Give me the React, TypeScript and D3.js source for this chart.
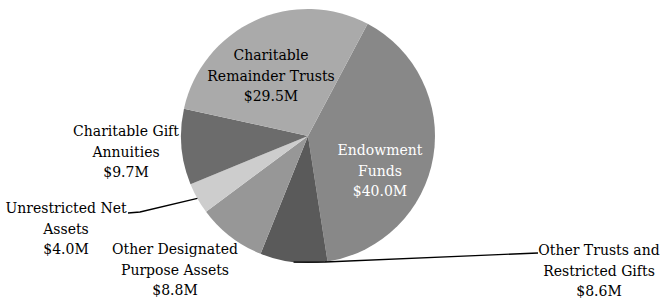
import React from 'react';
import * as d3 from 'd3';

const categories = [
  'Endowment Funds',
  'Other Trusts and Restricted Gifts',
  'Other Designated Purpose Assets',
  'Unrestricted Net Assets',
  'Charitable Gift Annuities',
  'Charitable Remainder Trusts',
];
const values = [40.0, 8.6, 8.8, 4.0, 9.7, 29.5];
const valueLabels = ['$40.0M', '$8.6M', '$8.8M', '$4.0M', '$9.7M', '$29.5M'];
const labelLines = [
  ['Endowment', 'Funds'],
  ['Other Trusts and', 'Restricted Gifts'],
  ['Other Designated', 'Purpose Assets'],
  ['Unrestricted Net', 'Assets'],
  ['Charitable Gift', 'Annuities'],
  ['Charitable', 'Remainder Trusts'],
];
const colours = ['#888888', '#5a5a5a', '#979797', '#cdcdcd', '#6c6c6c', '#aaaaaa'];

// label placement (centre x, first line y), leader points if any
const labelPos = [
  { x: 380, y: 155, fill: '#ffffff' },
  { x: 599, y: 255, fill: '#000000', elbow: [325, 262], end: [538, 253] },
  { x: 175, y: 254, fill: '#000000' },
  { x: 66, y: 213, fill: '#000000', elbow: [140, 212], end: [128, 213] },
  { x: 126, y: 136, fill: '#000000' },
  { x: 271, y: 60, fill: '#000000' },
];

const cx = 308;
const cy = 136;
const radius = 127;
const lineH = 20.5;

export default function App() {
  const pie = d3
    .pie<number>()
    .sort(null)
    .startAngle((28 * Math.PI) / 180)
    .endAngle((28 * Math.PI) / 180 + 2 * Math.PI);
  const arcs = pie(values);
  const arc = d3.arc<d3.PieArcDatum<number>>().innerRadius(0).outerRadius(radius);
  const edge = d3.arc<d3.PieArcDatum<number>>().innerRadius(radius).outerRadius(radius);

  return (
    <svg width={661} height={300} style={{ display: 'block', position: 'absolute', left: 0, top: 0 }}>
      <g transform={`translate(${cx},${cy})`}>
        {arcs.map((a, i) => (
          <path key={categories[i]} d={arc(a) || ''} fill={colours[i]} />
        ))}
      </g>
      {arcs.map((a, i) => {
        const p = labelPos[i];
        if (!p.elbow) return null;
        const [ex, ey] = edge.centroid(a);
        const pts: [number, number][] = [[cx + ex, cy + ey], p.elbow as [number, number], p.end as [number, number]];
        return (
          <path
            key={'l' + i}
            d={d3.line()(pts) || ''}
            fill="none"
            stroke="#000"
            strokeWidth={1.3}
          />
        );
      })}
      {labelPos.map((p, i) => (
        <text
          key={'t' + i}
          x={p.x}
          y={p.y}
          textAnchor="middle"
          fill={p.fill}
          fontFamily="'DejaVu Serif', serif"
          fontSize={14}
        >
          {[...labelLines[i], valueLabels[i]].map((s, j) => (
            <tspan key={j} x={p.x} y={p.y + j * lineH}>
              {s}
            </tspan>
          ))}
        </text>
      ))}
    </svg>
  );
}
